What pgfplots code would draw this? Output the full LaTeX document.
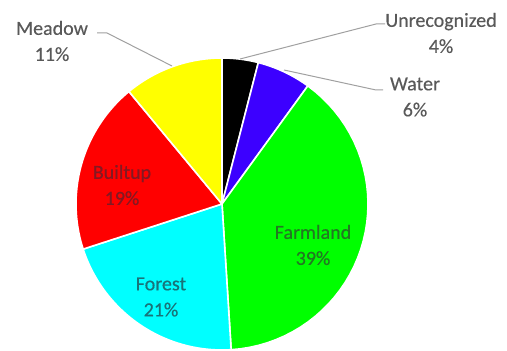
\documentclass[border=0pt]{standalone}
\usepackage{pgfplots}
\usepackage{pgfplotstable}
\pgfplotsset{compat=1.18}
\usepackage{fontspec}
\setmainfont{Carlito}
\newfontfamily\lblfont{Carlito}[FakeBold=0.35]
\definecolor{cWater}{RGB}{60,0,255}
\definecolor{cFarm}{RGB}{0,255,0}
\definecolor{cForest}{RGB}{0,255,255}
\definecolor{cBuilt}{RGB}{255,0,0}
\definecolor{cMeadow}{RGB}{255,255,0}
\definecolor{lblgray}{RGB}{89,89,89}
\definecolor{tBuilt}{RGB}{130,25,35}
\definecolor{tFarm}{RGB}{35,120,35}
\definecolor{tForest}{RGB}{25,115,120}
\definecolor{leader}{RGB}{160,160,160}

\pgfplotstableread{
name pct
Unrecognized 4
Water 6
Farmland 39
Forest 21
Builtup 19
Meadow 11
}\piedata

\pgfmathsetmacro\angA{90}
\pgfplotstablegetelem{0}{pct}\of\piedata \pgfmathsetmacro\angB{\angA-3.6*\pgfplotsretval}
\pgfplotstablegetelem{1}{pct}\of\piedata \pgfmathsetmacro\angC{\angB-3.6*\pgfplotsretval}
\pgfplotstablegetelem{2}{pct}\of\piedata \pgfmathsetmacro\angD{\angC-3.6*\pgfplotsretval}
\pgfplotstablegetelem{3}{pct}\of\piedata \pgfmathsetmacro\angE{\angD-3.6*\pgfplotsretval}
\pgfplotstablegetelem{4}{pct}\of\piedata \pgfmathsetmacro\angF{\angE-3.6*\pgfplotsretval}
\pgfplotstablegetelem{5}{pct}\of\piedata \pgfmathsetmacro\angG{\angF-3.6*\pgfplotsretval}

\newcommand\R{146}

\begin{document}
\begin{tikzpicture}[
  lbl/.style={font=\lblfont\fontsize{20}{26}\selectfont, align=center, inner sep=0pt},
]
\begin{axis}[
  name=ax,
  hide axis,
  scale only axis,
  width=507pt, height=351pt,
  xmin=-222, xmax=285, ymin=-147, ymax=204,
  clip=false,
  wedge/.style={draw=white, line width=1.6pt, line join=round, samples=40, data cs=polar},
]
\addplot[wedge, fill=black,   domain=\angA:\angB] ({x},{\R}) -- (axis cs:0,0) -- cycle;
\addplot[wedge, fill=cWater,  domain=\angB:\angC] ({x},{\R}) -- (axis cs:0,0) -- cycle;
\addplot[wedge, fill=cFarm,   domain=\angC:\angD] ({x},{\R}) -- (axis cs:0,0) -- cycle;
\addplot[wedge, fill=cForest, domain=\angD:\angE] ({x},{\R}) -- (axis cs:0,0) -- cycle;
\addplot[wedge, fill=cBuilt,  domain=\angE:\angF] ({x},{\R}) -- (axis cs:0,0) -- cycle;
\addplot[wedge, fill=cMeadow, domain=\angF:\angG] ({x},{\R}) -- (axis cs:0,0) -- cycle;

% leader lines
\addplot[leader, line width=1pt, no marks] coordinates {(-125,171) (-115,171) (-50,138)};
\addplot[leader, line width=1pt, no marks] coordinates {(163,180) (154,180) (18,145)};
\addplot[leader, line width=1pt, no marks] coordinates {(161,114) (154,114) (62,134)};

\node[lbl, text=lblgray] at (axis cs:-170,163) {Meadow\\11\%};
\node[lbl, text=lblgray] at (axis cs:219,171) {Unrecognized\\4\%};
\node[lbl, text=lblgray] at (axis cs:193,107) {Water\\6\%};
\node[lbl, text=tBuilt]  at (axis cs:-100,19) {Builtup\\19\%};
\node[lbl, text=tForest] at (axis cs:-61,-93) {Forest\\21\%};
\node[lbl, text=tFarm]   at (axis cs:91,-41) {Farmland\\39\%};
\end{axis}
\pgfresetboundingbox
\path[use as bounding box] (ax.south west) rectangle (ax.north east);
\end{tikzpicture}
\end{document}
